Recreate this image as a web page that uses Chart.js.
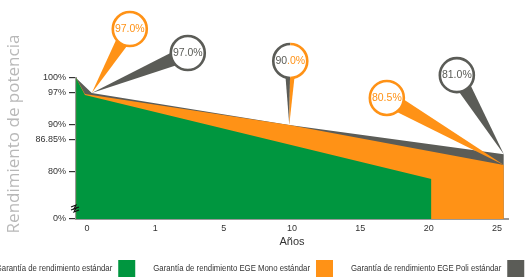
<!DOCTYPE html>
<html>
<head>
<meta charset="utf-8">
<script src="https://cdn.jsdelivr.net/npm/chart.js@4.4.1/dist/chart.umd.min.js"></script>
<style>
  html, body { margin: 0; padding: 0; background: #fff; }
  #wrap { width: 529px; height: 278px; }
</style>
</head>
<body>
<div id="wrap"><canvas id="chart"></canvas></div>
<script>
// axis ticks
const yearLabels = ['0', '1', '5', '10', '15', '20', '25'];
const yTicks = [100, 97, 90, 86.85, 80, 70];
const yTickLabels = ['100%', '97%', '90%', '86.85%', '80%', '0%'];

// series (x = slot on the year axis, 0 -> "0" ... 6 -> "25")
const seriesNames = [
    'Garantía de rendimiento estándar',
    'Garantía de rendimiento EGE Mono estándar',
    'Garantía de rendimiento EGE Poli estándar'
];
const standardX = [-0.16, -0.03, 5.04];
const standardY = [100, 96.4, 78.5];
const monoX = [-0.16, -0.03, 2.96, 6.1];
const monoY = [100, 96.6, 90.0, 81.5];
const poliX = [-0.16, 0.07, 2.96, 6.1];
const poliY = [100, 96.8, 90.0, 83.8];

// callout bubbles
const calloutText = ['97.0%', '97.0%', '90.0%', '80.5%', '81.0%'];

const GREEN = '#00963f';
const ORANGE = '#ff9216';
const GREY = '#5b5c57';
const seriesColors = [GREEN, ORANGE, GREY];
const FONT = '"Liberation Sans", Arial, Helvetica, sans-serif';

const callouts = [
    { ds: 2, pt: 1, dx: 38, dy: -64, hw: 8, color: ORANGE },
    { ds: 2, pt: 1, dx: 96, dy: -40, hw: 8, color: GREY },
    { ds: 1, pt: 2, dx: 1, dy: -64, hw: 6, color: GREY, split: ORANGE },
    { ds: 1, pt: 3, dx: -117, dy: -67, hw: 8, color: ORANGE },
    { ds: 2, pt: 3, dx: -47, dy: -79, hw: 8, color: GREY }
];

function toPoints(xs, ys) {
    return xs.map((x, i) => ({ x, y: ys[i] }));
}

function makeDataset(label, color, points) {
    return {
        label,
        data: points,
        backgroundColor: color,
        borderWidth: 0,
        pointRadius: 0,
        tension: 0,
        fill: 'origin'
    };
}

const calloutPlugin = {
    id: 'callouts',
    afterDatasetsDraw(chart) {
        const ctx = chart.ctx;
        callouts.forEach((c, i) => {
            const p = chart.getDatasetMeta(c.ds).data[c.pt];
            const tx = p.x, ty = p.y;
            const cx = tx + c.dx, cy = ty + c.dy;
            const r = 17;
            const len = Math.hypot(tx - cx, ty - cy);
            const nx = -(ty - cy) / len, ny = (tx - cx) / len;
            ctx.save();
            if (c.split) {
                ctx.fillStyle = c.color;
                ctx.beginPath();
                ctx.moveTo(cx - c.hw, cy);
                ctx.lineTo(tx, ty);
                ctx.lineTo(cx, cy);
                ctx.fill();
                ctx.fillStyle = c.split;
                ctx.beginPath();
                ctx.moveTo(cx, cy);
                ctx.lineTo(tx, ty);
                ctx.lineTo(cx + c.hw, cy);
                ctx.fill();
            } else {
                ctx.fillStyle = c.color;
                ctx.beginPath();
                ctx.moveTo(cx + nx * c.hw, cy + ny * c.hw);
                ctx.lineTo(tx, ty);
                ctx.lineTo(cx - nx * c.hw, cy - ny * c.hw);
                ctx.fill();
            }
            ctx.beginPath();
            ctx.arc(cx, cy, r, 0, Math.PI * 2);
            ctx.fillStyle = '#fff';
            ctx.fill();
            ctx.lineWidth = 2.6;
            if (c.split) {
                ctx.strokeStyle = c.color;
                ctx.beginPath();
                ctx.arc(cx, cy, r, Math.PI / 2, Math.PI * 1.5);
                ctx.stroke();
                ctx.strokeStyle = c.split;
                ctx.beginPath();
                ctx.arc(cx, cy, r, -Math.PI / 2, Math.PI / 2);
                ctx.stroke();
            } else {
                ctx.strokeStyle = c.color;
                ctx.stroke();
            }
            ctx.font = '10.5px ' + FONT;
            ctx.textBaseline = 'middle';
            const text = calloutText[i];
            if (c.split) {
                const a = text.slice(0, 2), b = text.slice(2);
                const wa = ctx.measureText(a).width, wb = ctx.measureText(b).width;
                const x0 = cx - (wa + wb) / 2;
                ctx.textAlign = 'left';
                ctx.fillStyle = c.color;
                ctx.fillText(a, x0, cy);
                ctx.fillStyle = c.split;
                ctx.fillText(b, x0 + wa, cy);
            } else {
                ctx.textAlign = 'center';
                ctx.fillStyle = c.color;
                ctx.fillText(text, cx, cy);
            }
            ctx.restore();
        });
    }
};

const decorPlugin = {
    id: 'decor',
    afterDraw(chart) {
        const ctx = chart.ctx;
        const area = chart.chartArea;
        ctx.save();
        // y axis title
        ctx.translate(14, 134);
        ctx.rotate(-Math.PI / 2);
        ctx.font = '17px "Open Sans", sans-serif';
        ctx.fillStyle = '#b8b8b8';
        ctx.textAlign = 'center';
        ctx.textBaseline = 'middle';
        ctx.fillText('Rendimiento de potencia', 0, 0);
        ctx.restore();

        // axis break mark
        ctx.save();
        ctx.strokeStyle = '#111';
        ctx.lineWidth = 1.1;
        const bx = area.left - 1, by = area.bottom - 11;
        [0, 3].forEach((k) => {
            ctx.beginPath();
            ctx.moveTo(bx - 4, by + k - 1);
            ctx.lineTo(bx + 1, by + k - 3);
            ctx.lineTo(bx - 1, by + k + 1);
            ctx.lineTo(bx + 4, by + k - 1);
            ctx.stroke();
        });
        ctx.restore();

        // legend: label then colour box, condensed text
        ctx.save();
        ctx.font = '9.5px ' + FONT;
        ctx.textBaseline = 'middle';
        ctx.textAlign = 'left';
        const squeeze = 0.82;
        const box = 17, gapBox = 6, gapItem = 18;
        const widths = seriesNames.map((s) => ctx.measureText(s).width * squeeze);
        const total = widths.reduce((a, w) => a + w + gapBox + box, 0) + gapItem * (seriesNames.length - 1);
        let x = 260 - total / 2;
        const y = 268.5;
        seriesNames.forEach((s, i) => {
            ctx.save();
            ctx.translate(x, y);
            ctx.scale(squeeze, 1);
            ctx.fillStyle = '#333';
            ctx.fillText(s, 0, 0);
            ctx.restore();
            x += widths[i] + gapBox;
            ctx.fillStyle = seriesColors[i];
            ctx.fillRect(x, y - box / 2, box, box);
            x += box + gapItem;
        });
        ctx.restore();
    }
};

new Chart(document.getElementById('chart'), {
    type: 'line',
    data: {
        datasets: [
            makeDataset(seriesNames[0], GREEN, toPoints(standardX, standardY)),
            makeDataset(seriesNames[1], ORANGE, toPoints(monoX, monoY)),
            makeDataset(seriesNames[2], GREY, toPoints(poliX, poliY))
        ]
    },
    options: {
        responsive: true,
        maintainAspectRatio: false,
        animation: false,
        layout: { padding: { top: 78, right: 21, left: 0, bottom: 0 } },
        plugins: { legend: { display: false }, tooltip: { enabled: false } },
        scales: {
            x: {
                type: 'linear',
                min: -0.161,
                max: 6.161,
                afterBuildTicks(scale) {
                    scale.ticks = yearLabels.map((_, i) => ({ value: i }));
                },
                afterFit(scale) { scale.height = 59; },
                grid: { display: false, drawTicks: false },
                border: { color: '#999', width: 2 },
                ticks: {
                    autoSkip: false,
                    maxRotation: 0,
                    padding: 4,
                    color: '#333',
                    font: { size: 9, family: FONT },
                    callback: (v, i) => yearLabels[i]
                },
                title: {
                    display: true,
                    text: 'Años',
                    color: '#333',
                    font: { size: 11, family: FONT },
                    padding: { top: 0, bottom: 29 }
                }
            },
            y: {
                type: 'linear',
                min: 70,
                max: 100,
                afterBuildTicks(scale) {
                    scale.ticks = yTicks.map((v) => ({ value: v }));
                },
                afterFit(scale) { scale.width = 76; },
                grid: { drawOnChartArea: false, drawTicks: true, tickLength: 7, tickColor: '#333', lineWidth: 1.2 },
                border: { color: '#999', width: 2 },
                ticks: {
                    autoSkip: false,
                    padding: 3,
                    color: '#333',
                    font: { size: 9, family: FONT },
                    callback: (v, i) => yTickLabels[i]
                }
            }
        }
    },
    plugins: [calloutPlugin, decorPlugin]
});
</script>
</body>
</html>
